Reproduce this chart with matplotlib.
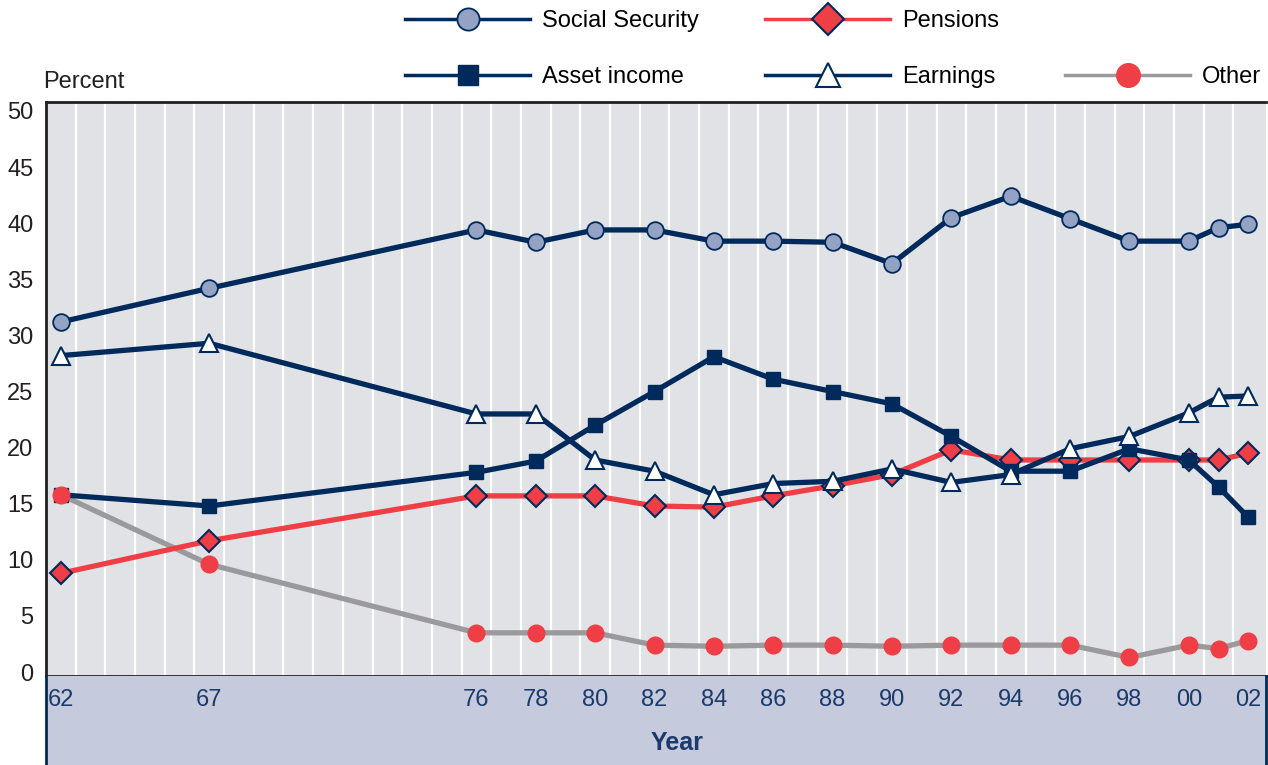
import matplotlib
matplotlib.use("Agg")
import matplotlib.pyplot as plt
from matplotlib.lines import Line2D

## DATA
years = [1962, 1967, 1976, 1978, 1980, 1982, 1984, 1986, 1988, 1990,
         1992, 1994, 1996, 1998, 2000, 2001, 2002]
year_ticks = [1962, 1967, 1976, 1978, 1980, 1982, 1984, 1986, 1988, 1990,
              1992, 1994, 1996, 1998, 2000, 2002]
year_labels = ["62", "67", "76", "78", "80", "82", "84", "86", "88", "90",
               "92", "94", "96", "98", "00", "02"]

social_security = [31.2, 34.2, 39.4, 38.3, 39.4, 39.4, 38.4, 38.4, 38.3, 36.4,
                   40.5, 42.4, 40.4, 38.4, 38.4, 39.6, 39.9]
pensions = [8.8, 11.7, 15.7, 15.7, 15.7, 14.8, 14.7, 15.7, 16.6, 17.6,
            19.8, 18.9, 18.9, 18.9, 18.9, 18.9, 19.5]
asset_income = [15.8, 14.8, 17.8, 18.8, 22.0, 25.0, 28.1, 26.1, 25.0, 23.9,
                21.0, 17.9, 17.9, 19.9, 18.9, 16.5, 13.8]
earnings = [28.2, 29.3, 23.0, 23.0, 18.9, 17.9, 15.8, 16.8, 17.0, 18.1,
            16.9, 17.6, 19.9, 21.0, 23.1, 24.5, 24.6]
other = [15.8, 9.6, 3.5, 3.5, 3.5, 2.4, 2.3, 2.4, 2.4, 2.3,
         2.4, 2.4, 2.4, 1.3, 2.4, 2.1, 2.8]

## STYLE
navy = "#002a5c"
red = "#ef3e45"
grey = "#9a9a9c"
ss_fill = "#94a2c3"
bg = "#e1e2e5"
band = "#c5cadc"
label_navy = "#1b3a6b"
ink = "#231f20"

plt.rcParams["font.family"] = ["Liberation Sans", "DejaVu Sans"]
plt.rcParams["font.size"] = 17

fig = plt.figure(figsize=(12.68, 7.65), dpi=100)
ax = fig.add_axes([46/1268, 1 - 676/765, (1266 - 46)/1268, (676 - 102)/765])
band_ax = fig.add_axes([46/1268, 0, (1266 - 46)/1268, (765 - 676)/765], sharex=ax)

xmin, xmax = 1961.5, 2002.6
ax.set_xlim(xmin, xmax)
ax.set_ylim(-0.35, 50.8)
ax.set_facecolor(bg)

# white separators between years
for y in range(1962, 2002):
    ax.axvline(y + 0.5, color="white", lw=1.6, zorder=1)

lw = 3.8
ax.plot(years, other, color=grey, lw=lw, zorder=2)
ax.plot(years, social_security, color=navy, lw=lw, marker="o", ms=12,
        mfc=ss_fill, mec=navy, mew=1.3, zorder=3)
ax.plot(years, pensions, color=red, lw=lw, marker="D", ms=11,
        mfc=red, mec=navy, mew=1.5, zorder=4)
ax.plot(years, asset_income, color=navy, lw=lw, marker="s", ms=10,
        mfc=navy, mec=navy, zorder=5)
ax.plot(years, earnings, color=navy, lw=lw, marker="^", ms=13,
        mfc="white", mec=navy, mew=1.5, zorder=6)
ax.plot(years, other, ls="none", marker="o", ms=12, mfc=red, mec=red, zorder=7)

ax.set_yticks(range(0, 51, 5))
ax.tick_params(axis="y", length=0, pad=9, labelsize=17, colors=ink)
ax.tick_params(axis="x", length=0, labelbottom=False)
for s in ["left", "top", "bottom"]:
    ax.spines[s].set_color(ink)
    ax.spines[s].set_linewidth(2)
ax.spines["right"].set_visible(False)

fig.text(43/1268, 1 - 82/765, "Percent", ha="left", va="center", fontsize=17,
         color=ink)

# year band under the plot
band_ax.set_facecolor(band)
band_ax.set_ylim(0, 1)
band_ax.set_yticks([])
band_ax.set_xticks([])
band_ax.spines["top"].set_visible(False)
band_ax.spines["bottom"].set_visible(False)
for s in ["left", "right"]:
    band_ax.spines[s].set_color(navy)
    band_ax.spines[s].set_linewidth(2)
for yr, lab in zip(year_ticks, year_labels):
    band_ax.text(yr, 0.73, lab, ha="center", va="center", fontsize=17,
                 color=label_navy)
band_ax.text(0.517, 0.25, "Year", ha="center", va="center",
             fontsize=18, fontweight="bold", color=label_navy,
             transform=band_ax.transAxes)

# legend
handles = [
    Line2D([], [], color=navy, lw=2.5, marker="o", ms=16, mfc=ss_fill, mec=navy, mew=1.3),
    Line2D([], [], color=navy, lw=2.5, marker="s", ms=14, mfc=navy, mec=navy),
    Line2D([], [], color=red, lw=2.5, marker="D", ms=16, mfc=red, mec=navy, mew=1.5),
    Line2D([], [], color=navy, lw=2.5, marker="^", ms=17, mfc="white", mec=navy, mew=1.5),
    Line2D([], [], color="none"),
    Line2D([], [], color=grey, lw=2.5, marker="o", ms=17, mfc=red, mec=red),
]
labels = ["Social Security", "Asset income", "Pensions", "Earnings", "", "Other"]
fig.legend(handles, labels, ncol=3, loc="upper left",
           bbox_to_anchor=(405/1268, 1 - 10/765), frameon=False, fontsize=17,
           handlelength=5.3, handletextpad=0.5, columnspacing=2.8,
           labelspacing=1.45, borderaxespad=0.0, borderpad=0.0)

fig.savefig("out.png", dpi=100)
